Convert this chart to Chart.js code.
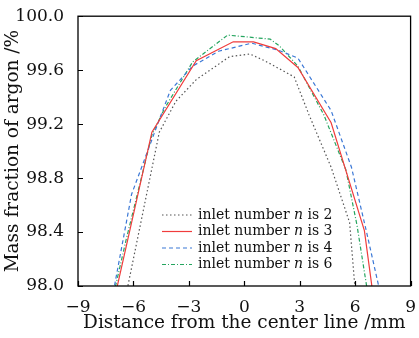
<!DOCTYPE html>
<html>
<head>
<meta charset="utf-8">
<script src="https://cdn.jsdelivr.net/npm/chart.js@4.4.1/dist/chart.umd.min.js"></script>
<style>
  html, body { margin: 0; padding: 0; background: #fff; }
  #wrap { width: 419px; height: 338px; }
</style>
</head>
<body>
<div id="wrap"><canvas id="argonChart"></canvas></div>
<script>
// values (x in mm, y in %)
const xTicks = [-9, -6, -3, 0, 3, 6, 9];
const yTicks = [98.0, 98.4, 98.8, 99.2, 99.6, 100.0];

const n2X = [-6.6, -4.6, -3.7, -2.6, -0.8, 0.3, 1.1, 2.7, 3.5, 4.7, 5.7, 6.1];
const n2Y = [97.8, 99.14, 99.37, 99.53, 99.70, 99.72, 99.67, 99.55, 99.27, 98.88, 98.47, 97.8];

const n3X = [-7.2, -5.0, -2.6, -0.6, 0.5, 1.7, 2.9, 4.7, 6.5, 7.1];
const n3Y = [97.8, 99.14, 99.67, 99.81, 99.81, 99.76, 99.62, 99.21, 98.41, 97.8];

const n4X = [-7.3, -6.1, -4.5, -4.0, -2.8, -1.4, 0.4, 1.8, 2.9, 4.7, 5.8, 6.6, 7.6];
const n4Y = [97.8, 98.68, 99.27, 99.45, 99.63, 99.74, 99.80, 99.75, 99.69, 99.30, 98.88, 98.41, 97.8];

const n6X = [-7.3, -6.4, -5.0, -4.3, -2.8, -0.9, 1.4, 1.9, 2.9, 4.3, 5.5, 6.1, 6.85];
const n6Y = [97.8, 98.34, 99.12, 99.32, 99.66, 99.86, 99.83, 99.78, 99.63, 99.27, 98.86, 98.45, 97.8];

const seriesLabels = ['2', '3', '4', '6'];

function toPoints(xs, ys) {
    return xs.map((x, i) => ({ x: x, y: ys[i] }));
}

const serif = '"DejaVu Serif", serif';

// frame, inward ticks and the legend with italic n
const framePlugin = {
    id: 'framePlugin',
    afterDraw(chart) {
        const ctx = chart.ctx;
        const a = chart.chartArea;
        const xs = chart.scales.x, ys = chart.scales.y;
        ctx.save();
        ctx.strokeStyle = '#000';
        ctx.lineWidth = 1.3;
        ctx.setLineDash([]);
        ctx.strokeRect(a.left, a.top, a.right - a.left, a.bottom - a.top);
        ctx.lineWidth = 1.2;
        ctx.beginPath();
        xTicks.forEach(t => {
            const px = Math.round(xs.getPixelForValue(t)) + 0.5;
            ctx.moveTo(px, a.bottom);
            ctx.lineTo(px, a.bottom - 5);
        });
        yTicks.forEach(t => {
            const py = Math.round(ys.getPixelForValue(t)) + 0.5;
            ctx.moveTo(a.left, py);
            ctx.lineTo(a.left + 5, py);
        });
        ctx.stroke();

        // legend
        const lx = 162, ly = 215, step = 16.5;
        chart.data.datasets.forEach((ds, i) => {
            const y = ly + i * step;
            ctx.strokeStyle = ds.borderColor;
            ctx.lineWidth = ds.borderWidth;
            ctx.setLineDash(ds.borderDash || []);
            ctx.beginPath();
            ctx.moveTo(lx, y);
            ctx.lineTo(lx + 30, y);
            ctx.stroke();
            ctx.setLineDash([]);
            ctx.fillStyle = '#111';
            ctx.textBaseline = 'middle';
            let tx = lx + 36;
            ctx.font = '14px ' + serif;
            ctx.fillText('inlet number ', tx, y);
            tx += ctx.measureText('inlet number ').width;
            ctx.font = 'italic 14px ' + serif;
            ctx.fillText('n', tx, y);
            tx += ctx.measureText('n').width;
            ctx.font = '14px ' + serif;
            ctx.fillText(' is ' + seriesLabels[i], tx, y);
        });
        ctx.restore();
    }
};

const ctx = document.getElementById('argonChart').getContext('2d');
const argonChart = new Chart(ctx, {
    type: 'line',
    data: {
        datasets: [
            { label: 'n2', data: toPoints(n2X, n2Y), borderColor: '#555555', borderWidth: 1.2, borderDash: [1.5, 2.5] },
            { label: 'n3', data: toPoints(n3X, n3Y), borderColor: '#f03c3c', borderWidth: 1.2 },
            { label: 'n4', data: toPoints(n4X, n4Y), borderColor: '#3b78d6', borderWidth: 1.2, borderDash: [4, 3] },
            { label: 'n6', data: toPoints(n6X, n6Y), borderColor: '#25a55f', borderWidth: 1.2, borderDash: [4, 2, 1, 2] }
        ].map(ds => Object.assign(ds, { pointRadius: 0, fill: false, tension: 0 }))
    },
    options: {
        responsive: true,
        maintainAspectRatio: false,
        animation: false,
        layout: { padding: { top: 15, right: 6, left: 2, bottom: 4 } },
        plugins: { legend: { display: false }, tooltip: { enabled: false } },
        scales: {
            x: {
                type: 'linear',
                min: -9, max: 9,
                afterBuildTicks: s => { s.ticks = xTicks.map(v => ({ value: v })); },
                afterFit: s => { s.height = 48; },
                grid: { display: false },
                border: { display: false },
                ticks: {
                    padding: 3,
                    color: '#111',
                    font: { family: serif, size: 17 },
                    callback: v => (v < 0 ? '\u2212' + Math.abs(v) : String(v))
                },
                title: {
                    display: true,
                    text: 'Distance from the center line /mm',
                    color: '#111',
                    font: { family: serif, size: 18.5 },
                    padding: { top: 0, bottom: 0 }
                }
            },
            y: {
                min: 98, max: 100,
                afterBuildTicks: s => { s.ticks = yTicks.map(v => ({ value: v })); },
                afterFit: s => { s.width = 76; },
                grid: { display: false },
                border: { display: false },
                ticks: {
                    padding: 6,
                    color: '#111',
                    font: { family: serif, size: 17 },
                    callback: v => Number(v).toFixed(1)
                },
                title: {
                    display: true,
                    text: 'Mass fraction of argon /%',
                    color: '#111',
                    font: { family: serif, size: 18.5 },
                    padding: { top: 0, bottom: 0 }
                }
            }
        }
    },
    plugins: [framePlugin]
});
</script>
</body>
</html>
